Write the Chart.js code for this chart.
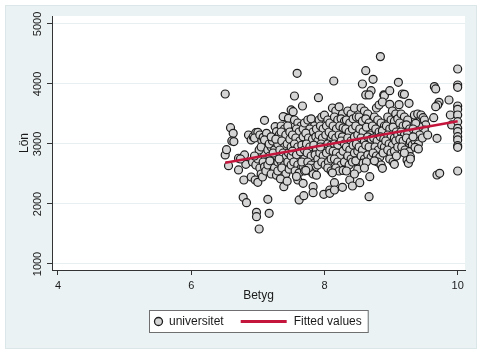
<!DOCTYPE html>
<html>
<head>
<meta charset="utf-8">
<script src="https://cdn.jsdelivr.net/npm/chart.js@4"></script>
<style>
html, body { margin: 0; padding: 0; background: #fff; }
</style>
</head>
<body>
<canvas id="lonChart" width="481" height="353"></canvas>
<script>
// betyg (x) and lön (y)
const punkter = [
  [6.51,3833],[6.51,2817],[6.53,2906],[6.56,2639],[6.59,3272],[6.63,3178],[6.61,3050],[6.64,3040],
  [6.71,2762],[6.71,2567],[6.80,2817],[6.82,2661],[6.79,2400],[6.78,2111],[6.83,2022],[6.74,2750],
  [6.86,3150],[6.90,3067],[6.93,3122],[6.97,3189],[7.00,3194],[6.95,3100],[7.03,3150],[7.06,3056],
  [7.08,3111],[6.90,2450],[6.96,2400],[7.00,2361],[6.98,1861],[6.98,1789],[7.02,1583],[7.10,3394],
  [6.92,2700],[6.97,2650],[7.00,2750],[7.03,2600],[7.05,2500],[7.07,2450],[7.08,2700],[7.10,2850],
  [7.02,2900],[6.95,2800],[7.05,2950],[7.10,2620],[7.12,2550],
  [7.15,2078],[7.17,1844],[7.13,3178],[7.10,3067],[7.26,3289],[7.28,3206],[7.15,2900],[7.18,2800],
  [7.20,2950],[7.22,2700],[7.15,2650],[7.25,2600],[7.20,2500],[7.28,2480],[7.30,2550],[7.17,3000],
  [7.22,3050],[7.25,2900],[7.28,2800],[7.30,2700],[7.20,3120],[7.30,3000],[7.32,3150],[7.27,3080],
  [7.23,2850],[7.18,2720],
  [7.41,3444],[7.38,3456],[7.46,3428],[7.50,3567],[7.35,3300],[7.40,3250],[7.45,3300],[7.35,3200],
  [7.42,3150],[7.48,3200],[7.36,3050],[7.40,2950],[7.44,3000],[7.48,3080],[7.33,2900],[7.38,2850],
  [7.42,2780],[7.46,2850],[7.50,2950],[7.35,2700],[7.40,2650],[7.45,2700],[7.50,2800],[7.36,2600],
  [7.42,2500],[7.47,2580],[7.39,2289],[7.34,2420],[7.44,2380],[7.50,2650],[7.32,2750],
  [7.59,4178],[7.55,3800],[7.67,3633],[7.53,3539],[7.55,3400],[7.60,3350],[7.65,3300],[7.58,3250],
  [7.62,3200],[7.68,3250],[7.70,3350],[7.52,3150],[7.57,3100],[7.63,3050],[7.68,3120],[7.55,3000],
  [7.60,2950],[7.66,2980],[7.52,2880],[7.58,2820],[7.64,2870],[7.70,2900],[7.54,2700],[7.60,2650],
  [7.65,2600],[7.70,2750],[7.56,2550],[7.62,2520],[7.68,2620],[7.60,2400],[7.62,2067],[7.69,2139],
  [7.68,2344],[7.58,2460],[7.66,2700],[7.70,2550],
  [7.75,3400],[7.80,3420],[7.85,3300],[7.78,3250],[7.83,3200],[7.88,3250],[7.72,3180],[7.76,3100],
  [7.82,3080],[7.87,3120],[7.90,3050],[7.73,3000],[7.78,2950],[7.84,2980],[7.88,2900],[7.74,2850],
  [7.80,2800],[7.86,2820],[7.90,2750],[7.75,2700],[7.80,2650],[7.85,2600],[7.90,2650],[7.78,2550],
  [7.83,2500],[7.88,2480],[7.83,2289],[7.83,2189],[7.76,2600],[7.72,2560],
  [7.91,3772],[7.92,3400],[7.96,3450],[8.00,3480],[8.05,3400],[7.94,3300],[7.98,3250],[8.03,3300],
  [8.08,3350],[7.92,3150],[7.97,3100],[8.02,3150],[8.07,3200],[8.10,3100],[7.95,3000],[8.00,2950],
  [8.05,3000],[8.10,2980],[7.93,2850],[7.98,2800],[8.03,2850],[8.08,2900],[7.96,2700],[8.01,2650],
  [8.06,2700],[8.10,2750],[7.99,2161],[8.08,2233],[8.08,2178],[8.05,2600],[8.10,2550],[7.94,2950],
  [8.14,4050],[8.12,3600],[8.17,3550],[8.22,3620],[8.27,3500],[8.15,3450],[8.20,3400],[8.25,3420],
  [8.30,3380],[8.13,3300],[8.18,3250],[8.23,3300],[8.28,3270],[8.12,3150],[8.17,3100],[8.22,3150],
  [8.27,3120],[8.15,3000],[8.20,2980],[8.25,3050],[8.30,3000],[8.13,2880],[8.18,2850],[8.23,2800],
  [8.28,2880],[8.15,2750],[8.20,2700],[8.25,2650],[8.30,2700],[8.17,2600],[8.22,2550],[8.15,2356],
  [8.15,2233],[8.27,2278],[8.12,2520],[8.28,2560],
  [8.35,3550],[8.40,3500],[8.45,3600],[8.33,3400],[8.38,3350],[8.43,3420],[8.48,3450],[8.32,3250],
  [8.37,3200],[8.42,3250],[8.47,3300],[8.35,3100],[8.40,3050],[8.45,3120],[8.50,3150],[8.33,2950],
  [8.38,2900],[8.43,2980],[8.48,3000],[8.35,2800],[8.40,2750],[8.45,2850],[8.50,2880],[8.37,2650],
  [8.42,2700],[8.47,2720],[8.38,2400],[8.42,2300],[8.50,2580],[8.33,2550],[8.45,2500],
  [8.62,4222],[8.57,4000],[8.73,4078],[8.70,3889],[8.62,3817],[8.67,3817],[8.55,3600],[8.60,3550],
  [8.65,3500],[8.52,3450],[8.57,3380],[8.62,3420],[8.67,3350],[8.53,3250],[8.58,3200],[8.63,3280],
  [8.68,3150],[8.55,3100],[8.60,3050],[8.65,3120],[8.70,3080],[8.52,2950],[8.57,2900],[8.62,2980],
  [8.67,2950],[8.55,2800],[8.60,2750],[8.65,2820],[8.70,2780],[8.58,2680],[8.63,2700],[8.53,2356],
  [8.67,2122],[8.68,2456],[8.60,2600],
  [8.84,4456],[8.89,3817],[8.90,3806],[8.78,3600],[8.82,3650],[8.87,3700],[8.75,3450],[8.80,3400],
  [8.85,3350],[8.90,3300],[8.72,3300],[8.77,3250],[8.82,3200],[8.87,3220],[8.74,3100],[8.79,3050],
  [8.84,3120],[8.89,3080],[8.76,2950],[8.81,2900],[8.86,2980],[8.90,2950],[8.73,2850],[8.78,2800],
  [8.83,2780],[8.88,2850],[8.80,2700],[8.85,2650],[8.87,2594],[8.75,2720],
  [8.98,3889],[8.98,3661],[9.11,4028],[9.12,3656],[9.02,3550],[9.07,3500],[8.95,3450],[9.00,3400],
  [9.05,3380],[9.10,3420],[8.93,3300],[8.98,3250],[9.03,3280],[9.08,3200],[8.95,3150],[9.00,3120],
  [9.05,3100],[9.10,3150],[8.92,3050],[8.97,3000],[9.02,2980],[9.07,3050],[8.95,2900],[9.00,2850],
  [9.05,2880],[9.10,2950],[8.98,2750],[9.03,2700],[9.05,2661],[9.08,2800],
  [9.17,3833],[9.20,3828],[9.27,3678],[9.15,3500],[9.20,3450],[9.25,3400],[9.13,3350],[9.18,3300],
  [9.23,3320],[9.28,3250],[9.15,3200],[9.20,3150],[9.25,3180],[9.13,3080],[9.18,3050],[9.23,3100],
  [9.28,3000],[9.16,2950],[9.21,2900],[9.29,3039],[9.32,2983],[9.27,2872],[9.29,2789],[9.24,2733],
  [9.26,2678],[9.29,2750],[9.20,2850],
  [9.35,3483],[9.40,3500],[9.45,3483],[9.48,3439],[9.50,3400],[9.52,3317],[9.50,3233],[9.42,3289],
  [9.37,3344],[9.33,3250],[9.38,3200],[9.43,3150],[9.36,3050],[9.41,3000],[9.36,2944],[9.41,2917],
  [9.47,3100],[9.55,3150],[9.33,3120],
  [9.65,3956],[9.67,3917],[9.72,3694],[9.70,3650],[9.67,3622],[9.87,3733],[9.89,3483],[9.64,3439],
  [9.69,3094],[9.69,2483],[9.73,2511],[9.91,3317],
  [10,4250],[10,3983],[10,3944],[10,3633],[10,3578],[10,3483],[10,3372],[10,3261],[10,3206],
  [10,3122],[10,3067],[10,2972],[10,2944],[10,2550]
];

// fitted values (linear fit end points)
const fitBetyg = [6.51, 10];
const fitLon = [2688, 3378];

const xTicks = [4, 6, 8, 10];
const yTicks = [1000, 2000, 3000, 4000, 5000];

const fontFam = '"Liberation Sans", Arial, sans-serif';
const textColor = '#1a1a1a';
const fitColor = '#c4163c';

const bakgrund = {
  id: 'bakgrund',
  beforeDraw(chart) {
    const ctx = chart.ctx, a = chart.chartArea;
    ctx.save();
    ctx.fillStyle = '#fff';
    ctx.fillRect(0, 0, chart.width, chart.height);
    ctx.fillStyle = '#eaf2f3';
    ctx.fillRect(5, 5, chart.width - 9, chart.height - 9);
    ctx.strokeStyle = '#dae6e7';
    ctx.strokeRect(5.5, 5.5, chart.width - 10, chart.height - 10);
    ctx.fillStyle = '#fff';
    ctx.fillRect(a.left, a.top, a.right - a.left, a.bottom - a.top);
    ctx.restore();
  },
  afterDraw(chart) {
    const ctx = chart.ctx, ys = chart.scales.y, a = chart.chartArea;
    ctx.save();
    // y tick labels, vertical like Stata
    ctx.font = '11px ' + fontFam;
    ctx.fillStyle = textColor;
    ctx.textAlign = 'center';
    ctx.textBaseline = 'middle';
    yTicks.forEach(v => {
      ctx.save();
      ctx.translate(ys.right - 14.5, ys.getPixelForValue(v));
      ctx.rotate(-Math.PI / 2);
      ctx.fillText(String(v), 0, 0);
      ctx.restore();
    });

    // legend box
    ctx.font = '12px ' + fontFam;
    const t1 = 'universitet', t2 = 'Fitted values';
    const w1 = ctx.measureText(t1).width, w2 = ctx.measureText(t2).width;
    const lw = 20 + w1 + 17 + 46 + 7 + w2 + 6;
    const lh = 22;
    const lx = Math.round((a.left + a.right) / 2 - lw / 2);
    const ly = 310;
    ctx.fillStyle = '#fff';
    ctx.fillRect(lx, ly, lw, lh);
    ctx.strokeStyle = '#6f6f6f';
    ctx.lineWidth = 1;
    ctx.strokeRect(lx + 0.5, ly + 0.5, lw, lh);
    const cy = ly + lh / 2 + 0.5;
    ctx.beginPath();
    ctx.arc(lx + 9.5, cy, 4, 0, Math.PI * 2);
    ctx.fillStyle = '#d5d5d5';
    ctx.fill();
    ctx.lineWidth = 1.3;
    ctx.strokeStyle = '#1c1c1c';
    ctx.stroke();
    ctx.fillStyle = textColor;
    ctx.textAlign = 'left';
    ctx.fillText(t1, lx + 20, cy);
    const lineX = lx + 20 + w1 + 17;
    ctx.beginPath();
    ctx.moveTo(lineX, cy);
    ctx.lineTo(lineX + 46, cy);
    ctx.strokeStyle = fitColor;
    ctx.lineWidth = 3;
    ctx.stroke();
    ctx.fillText(t2, lineX + 46 + 7, cy);
    ctx.restore();
  }
};

const ctx = document.getElementById('lonChart').getContext('2d');
const lonChart = new Chart(ctx, {
  type: 'scatter',
  data: {
    datasets: [
      {
        label: 'universitet',
        data: punkter.map(p => ({ x: p[0], y: p[1] })),
        pointRadius: 4,
        pointBorderWidth: 1.2,
        pointBackgroundColor: '#d5d5d5',
        pointBorderColor: '#1c1c1c',
        order: 2
      },
      {
        type: 'line',
        label: 'Fitted values',
        data: fitBetyg.map((b, i) => ({ x: b, y: fitLon[i] })),
        borderColor: fitColor,
        borderWidth: 2.6,
        pointRadius: 0,
        fill: false,
        order: 1
      }
    ]
  },
  options: {
    responsive: false,
    animation: false,
    devicePixelRatio: 1,
    layout: { padding: { left: 6, right: 16, top: 16, bottom: 49 } },
    plugins: { legend: { display: false }, tooltip: { enabled: false } },
    scales: {
      x: {
        type: 'linear',
        min: 3.91,
        max: 10.11,
        afterBuildTicks: s => { s.ticks = xTicks.map(v => ({ value: v })); },
        afterFit: s => { s.height = 34; },
        grid: { drawOnChartArea: false, tickLength: 5, tickColor: '#333' },
        border: { color: '#333' },
        ticks: { font: { family: fontFam, size: 11 }, color: textColor, padding: 4 },
        title: { display: true, text: 'Betyg', font: { family: fontFam, size: 12 }, color: textColor, padding: { top: 0, bottom: 1 } }
      },
      y: {
        type: 'linear',
        min: 900,
        max: 5133,
        afterBuildTicks: s => { s.ticks = yTicks.map(v => ({ value: v })); },
        afterFit: s => { s.width = 46; },
        grid: { color: '#e8eff0', tickLength: 5, tickColor: '#333' },
        border: { color: '#333' },
        ticks: { display: false },
        title: { display: true, text: 'Lön', font: { family: fontFam, size: 12 }, color: textColor, padding: { top: 11, bottom: 0 } }
      }
    }
  },
  plugins: [bakgrund]
});
</script>
</body>
</html>
